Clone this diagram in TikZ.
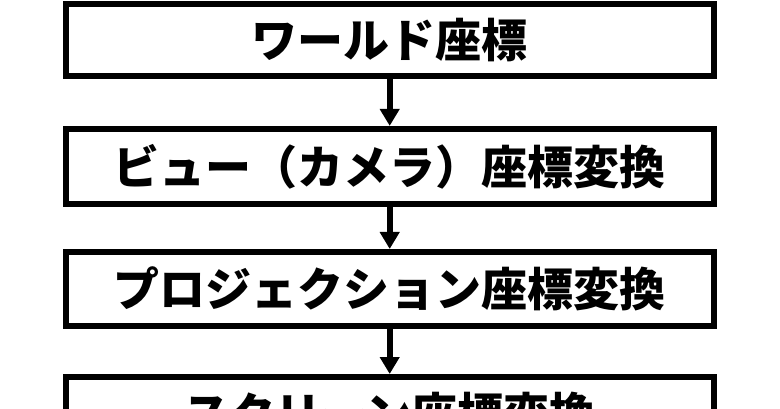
\documentclass[tikz,border=0pt]{standalone}
\usepackage{fontspec}
\newfontfamily\cjk{Noto Sans CJK JP}[BoldFont={Noto Sans CJK JP Black}]
\usetikzlibrary{arrows.meta}
\begin{document}
\begin{tikzpicture}[x=1pt,y=-1pt,
  stagebox/.style={draw=black, line width=6pt, fill=white, inner sep=0pt,
    minimum width=648pt, font=\cjk\bfseries\fontsize{46pt}{50pt}\selectfont},
  flow/.style={line width=6pt, -{Triangle[width=19pt,length=17pt]}}]
\useasboundingbox (0,0) rectangle (780,409);
\clip (0,0) rectangle (780,409);
\node[stagebox, minimum height=72pt] (b1) at (389.7,40) {ワールド座標};
\node[stagebox, minimum height=75pt] (b2) at (389.7,166.4) {ビュー（カメラ）座標変換};
\node[stagebox, minimum height=74pt] (b3) at (389.7,289) {プロジェクション座標変換};
\node[stagebox, minimum height=74pt] (b4) at (389.7,414) {スクリーン座標変換};
\draw[flow] (b1) -- (b2);
\draw[flow] (b2) -- (b3);
\draw[flow] (b3) -- (b4);
\end{tikzpicture}
\end{document}
